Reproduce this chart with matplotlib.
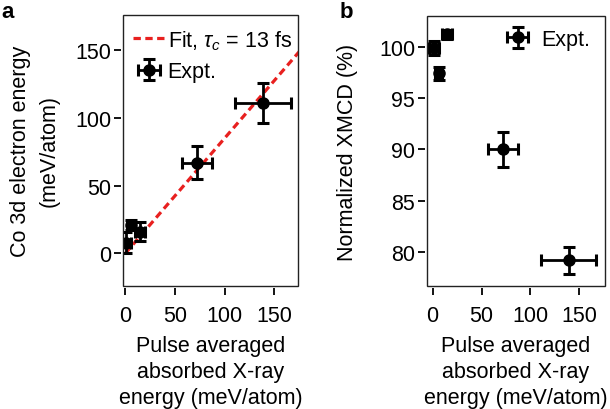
import matplotlib
matplotlib.use('Agg')
import matplotlib.pyplot as plt
from matplotlib.patches import Rectangle

plt.rcParams['font.family'] = ['Liberation Sans', 'DejaVu Sans']
plt.rcParams['mathtext.fontset'] = 'custom'
plt.rcParams['mathtext.it'] = 'Liberation Sans:italic'
plt.rcParams['mathtext.rm'] = 'Liberation Sans'

# data
pulse_energy = [1, 6, 15, 72, 139]
pulse_err = [5, 4, 5, 15, 28]
co3d_energy = [8, 21, 16, 67, 111]
co3d_err = [8, 4, 7, 12, 14.5]
xmcd = [99.9, 97.4, 101.2, 90.0, 79.2]
xmcd_err = [0.7, 0.6, 0.45, 1.7, 1.3]
fit_slope = 0.85
fit_x = [0, 180]

FS = 15.5
xlabel = 'Pulse averaged\nabsorbed X-ray\nenergy (meV/atom)'

fig = plt.figure(figsize=(6.1, 4.1), dpi=100)
W, H = 610, 410


def make_ax(l, t, r, b):
    ax = fig.add_axes([l / W, 1 - b / H, (r - l) / W, (b - t) / H])
    for s in ax.spines.values():
        s.set_color('none')
    ax.spines['bottom'].set_position(('outward', 1.5))
    ax.spines['left'].set_position(('outward', 1.5))
    ax.add_patch(Rectangle((0, 0), 1, 1, transform=ax.transAxes, fill=False,
                           lw=1.0, ec='#222222', zorder=5, clip_on=False))
    ax.tick_params(direction='out', length=5, width=1.3, labelsize=FS,
                   top=False, right=False)
    ax.tick_params(axis='x', pad=7)
    ax.tick_params(axis='y', pad=2)
    return ax


eb_style = dict(fmt='o', color='black', ms=8, elinewidth=2, capsize=4.2,
                capthick=2.2, zorder=4)

# panel a
ax1 = make_ax(123, 16, 298, 287)
ax1.plot(fit_x, [fit_slope * v for v in fit_x], color='#e8201f', lw=2.3,
         ls=(0, (2.3, 1.4)), label=r'Fit, $\tau_c$ = 13 fs', zorder=3)
ax1.errorbar(pulse_energy, co3d_energy, xerr=pulse_err, yerr=co3d_err,
             label='Expt.', **eb_style)
ax1.set_xlim(-2.3, 174)
ax1.set_ylim(-24, 176)
ax1.set_xticks([0, 50, 100, 150])
ax1.set_yticks([0, 50, 100, 150])
ax1.legend(loc='upper left', bbox_to_anchor=(-0.015, 1.0), frameon=False,
           fontsize=FS, handlelength=1.45, handletextpad=0.15,
           labelspacing=0.45, borderaxespad=0.2)

# panel b
ax2 = make_ax(427, 17, 605, 287)
ax2.errorbar(pulse_energy, xmcd, xerr=pulse_err, yerr=xmcd_err,
             label='Expt.', **eb_style)
ax2.set_xlim(-5.8, 176.3)
ax2.set_ylim(76.7, 103)
ax2.set_xticks([0, 50, 100, 150])
ax2.set_yticks([80, 85, 90, 95, 100])
ax2.legend(loc='upper right', bbox_to_anchor=(0.99, 1.0), frameon=False,
           fontsize=FS, handlelength=1.2, handletextpad=0.5,
           borderaxespad=0.2)

# axis labels
fig.text(210.5 / W, 1 - 336 / H, xlabel, ha='center', va='top',
         fontsize=FS, linespacing=1.3)
fig.text(516 / W, 1 - 336 / H, xlabel, ha='center', va='top',
         fontsize=FS, linespacing=1.3)
fig.text(35 / W, 1 - 151 / H, 'Co 3d electron energy\n(meV/atom)',
         rotation=90, ha='center', va='center', fontsize=FS,
         linespacing=1.5, multialignment='center')
fig.text(348 / W, 1 - 152 / H, 'Normalized XMCD (%)', rotation=90,
         ha='center', va='center', fontsize=FS)

fig.text(1 / W, 1 - 2 / H, 'a', ha='left', va='top', fontsize=16,
         fontweight='bold')
fig.text(340 / W, 1 - 2 / H, 'b', ha='left', va='top', fontsize=16,
         fontweight='bold')

fig.savefig('out.png', dpi=100)
